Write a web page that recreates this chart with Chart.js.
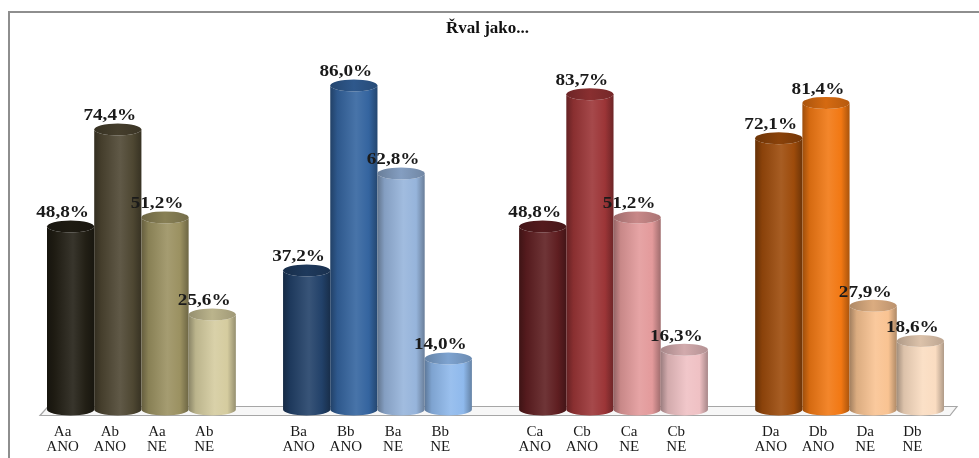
<!DOCTYPE html>
<html>
<head>
<meta charset="utf-8">
<title>Řval jako...</title>
<script src="https://cdn.jsdelivr.net/npm/chart.js@4.4.1/dist/chart.umd.min.js"></script>
<style>
  html, body { margin: 0; padding: 0; background: #fff; }
  #wrap { width: 979px; height: 458px; }
</style>
</head>
<body>
<div id="wrap"><canvas id="rvalChart" width="979" height="458"></canvas></div>
<script>
// Řval jako... – odpovědi ANO / NE po skupinách A–D (prázdné sloty = mezery mezi skupinami)
const categories = [
    ['Aa', 'ANO'], ['Ab', 'ANO'], ['Aa', 'NE'], ['Ab', 'NE'], '',
    ['Ba', 'ANO'], ['Bb', 'ANO'], ['Ba', 'NE'], ['Bb', 'NE'], '',
    ['Ca', 'ANO'], ['Cb', 'ANO'], ['Ca', 'NE'], ['Cb', 'NE'], '',
    ['Da', 'ANO'], ['Db', 'ANO'], ['Da', 'NE'], ['Db', 'NE']
];
const values = [
    48.8, 74.4, 51.2, 25.6, null,
    37.2, 86.0, 62.8, 14.0, null,
    48.8, 83.7, 51.2, 16.3, null,
    72.1, 81.4, 27.9, 18.6
];
const barColors = [
    '#221f15', '#4e4732', '#9b9161', '#d5cc9f', null,
    '#224169', '#34649f', '#96b4db', '#8fb9ec', null,
    '#5f1e21', '#9c3537', '#e39a9b', '#efc1c4', null,
    '#9d4b0b', '#f27813', '#f9c392', '#fadcc1'
];
const chartTitle = 'Řval jako...';

const DEPTH_X = 8;   // posun válců dozadu (pseudo 3D)
const CAP_RY = 6;    // výška elipsy víčka

function shade(hex, amt) {
    const n = parseInt(hex.slice(1), 16);
    let r = n >> 16, g = (n >> 8) & 255, b = n & 255;
    const t = amt < 0 ? 0 : 255, p = Math.abs(amt);
    r = Math.round(r + (t - r) * p);
    g = Math.round(g + (t - g) * p);
    b = Math.round(b + (t - b) * p);
    return `rgb(${r},${g},${b})`;
}

function formatPct(v) {
    return v.toFixed(1).replace('.', ',') + '%';
}

// rámeček grafu
const framePlugin = {
    id: 'frame',
    beforeDraw(chart) {
        const ctx = chart.ctx;
        ctx.save();
        ctx.fillStyle = '#fff';
        ctx.fillRect(0, 0, chart.width, chart.height);
        ctx.strokeStyle = '#8e8e8e';
        ctx.lineWidth = 2;
        ctx.strokeRect(9, 12, chart.width + 20, chart.height + 20);
        ctx.restore();
    }
};

// podlaha
const floorPlugin = {
    id: 'floor',
    beforeDatasetsDraw(chart) {
        const { ctx, chartArea } = chart;
        const y0 = chart.scales.y.getPixelForValue(0);
        const l = chartArea.left, r = chartArea.right;
        ctx.save();
        ctx.beginPath();
        ctx.moveTo(l + 1, y0 + 4);
        ctx.lineTo(l + 9, y0 - 5);
        ctx.lineTo(r + 21, y0 - 5);
        ctx.lineTo(r + 14, y0 + 4);
        ctx.closePath();
        ctx.fillStyle = '#f7f7f7';
        ctx.fill();
        ctx.strokeStyle = '#a6a6a6';
        ctx.lineWidth = 1.2;
        ctx.stroke();
        ctx.restore();
    }
};

// válce + popisky hodnot
const cylinderPlugin = {
    id: 'cylinders',
    afterDatasetsDraw(chart) {
        const ctx = chart.ctx;
        const meta = chart.getDatasetMeta(0);
        meta.data.forEach((bar, i) => {
            const v = values[i];
            if (v == null) return;
            const c = barColors[i];
            const w = bar.width;
            const cx = bar.x + DEPTH_X;
            const left = cx - w / 2, right = cx + w / 2;
            const top = bar.y, base = bar.base - 2;

            const g = ctx.createLinearGradient(left, 0, right, 0);
            g.addColorStop(0, shade(c, -0.35));
            g.addColorStop(0.15, shade(c, -0.12));
            g.addColorStop(0.55, shade(c, 0.1));
            g.addColorStop(0.82, c);
            g.addColorStop(1, shade(c, -0.3));

            ctx.save();
            ctx.beginPath();
            ctx.moveTo(left, top);
            ctx.lineTo(left, base);
            ctx.ellipse(cx, base, w / 2, CAP_RY, 0, Math.PI, 0, true);
            ctx.lineTo(right, top);
            ctx.ellipse(cx, top, w / 2, CAP_RY, 0, 0, Math.PI, false);
            ctx.closePath();
            ctx.fillStyle = g;
            ctx.fill();

            const tg = ctx.createLinearGradient(left, 0, right, 0);
            tg.addColorStop(0, shade(c, -0.3));
            tg.addColorStop(0.5, shade(c, -0.12));
            tg.addColorStop(1, shade(c, -0.25));
            ctx.beginPath();
            ctx.ellipse(cx, top, w / 2, CAP_RY, 0, 0, Math.PI * 2);
            ctx.fillStyle = tg;
            ctx.fill();
            ctx.restore();

            // popisek – široké patkové písmo
            ctx.save();
            ctx.translate(bar.x, top - CAP_RY - 3);
            ctx.scale(1.2, 1);
            ctx.font = 'bold 16px "Liberation Serif", "Times New Roman", serif';
            ctx.fillStyle = '#1a1a1a';
            ctx.textAlign = 'center';
            ctx.textBaseline = 'alphabetic';
            ctx.fillText(formatPct(v), 0, 0);
            ctx.restore();
        });
    }
};

new Chart(document.getElementById('rvalChart'), {
    type: 'bar',
    data: {
        labels: categories,
        datasets: [{
            data: values,
            backgroundColor: 'rgba(0,0,0,0)',
            borderWidth: 0,
            barPercentage: 1,
            categoryPercentage: 1
        }]
    },
    options: {
        responsive: false,
        animation: false,
        layout: { padding: { left: 39, right: 43, top: 0, bottom: -10.5 } },
        plugins: {
            legend: { display: false },
            tooltip: { enabled: false },
            title: {
                display: true,
                text: chartTitle,
                color: '#111',
                font: { family: '"Liberation Serif", "Times New Roman", serif', size: 17, weight: 'bold', lineHeight: 1.2 },
                padding: { top: 18, bottom: -6 }
            }
        },
        scales: {
            x: {
                grid: { display: false, drawTicks: false },
                border: { display: false },
                ticks: {
                    color: '#1a1a1a',
                    padding: 13.5,
                    maxRotation: 0,
                    autoSkip: false,
                    font: { family: '"Liberation Serif", "Times New Roman", serif', size: 15, lineHeight: 1 }
                }
            },
            y: {
                display: false,
                min: 0,
                max: 100
            }
        }
    },
    plugins: [framePlugin, floorPlugin, cylinderPlugin]
});
</script>
</body>
</html>
